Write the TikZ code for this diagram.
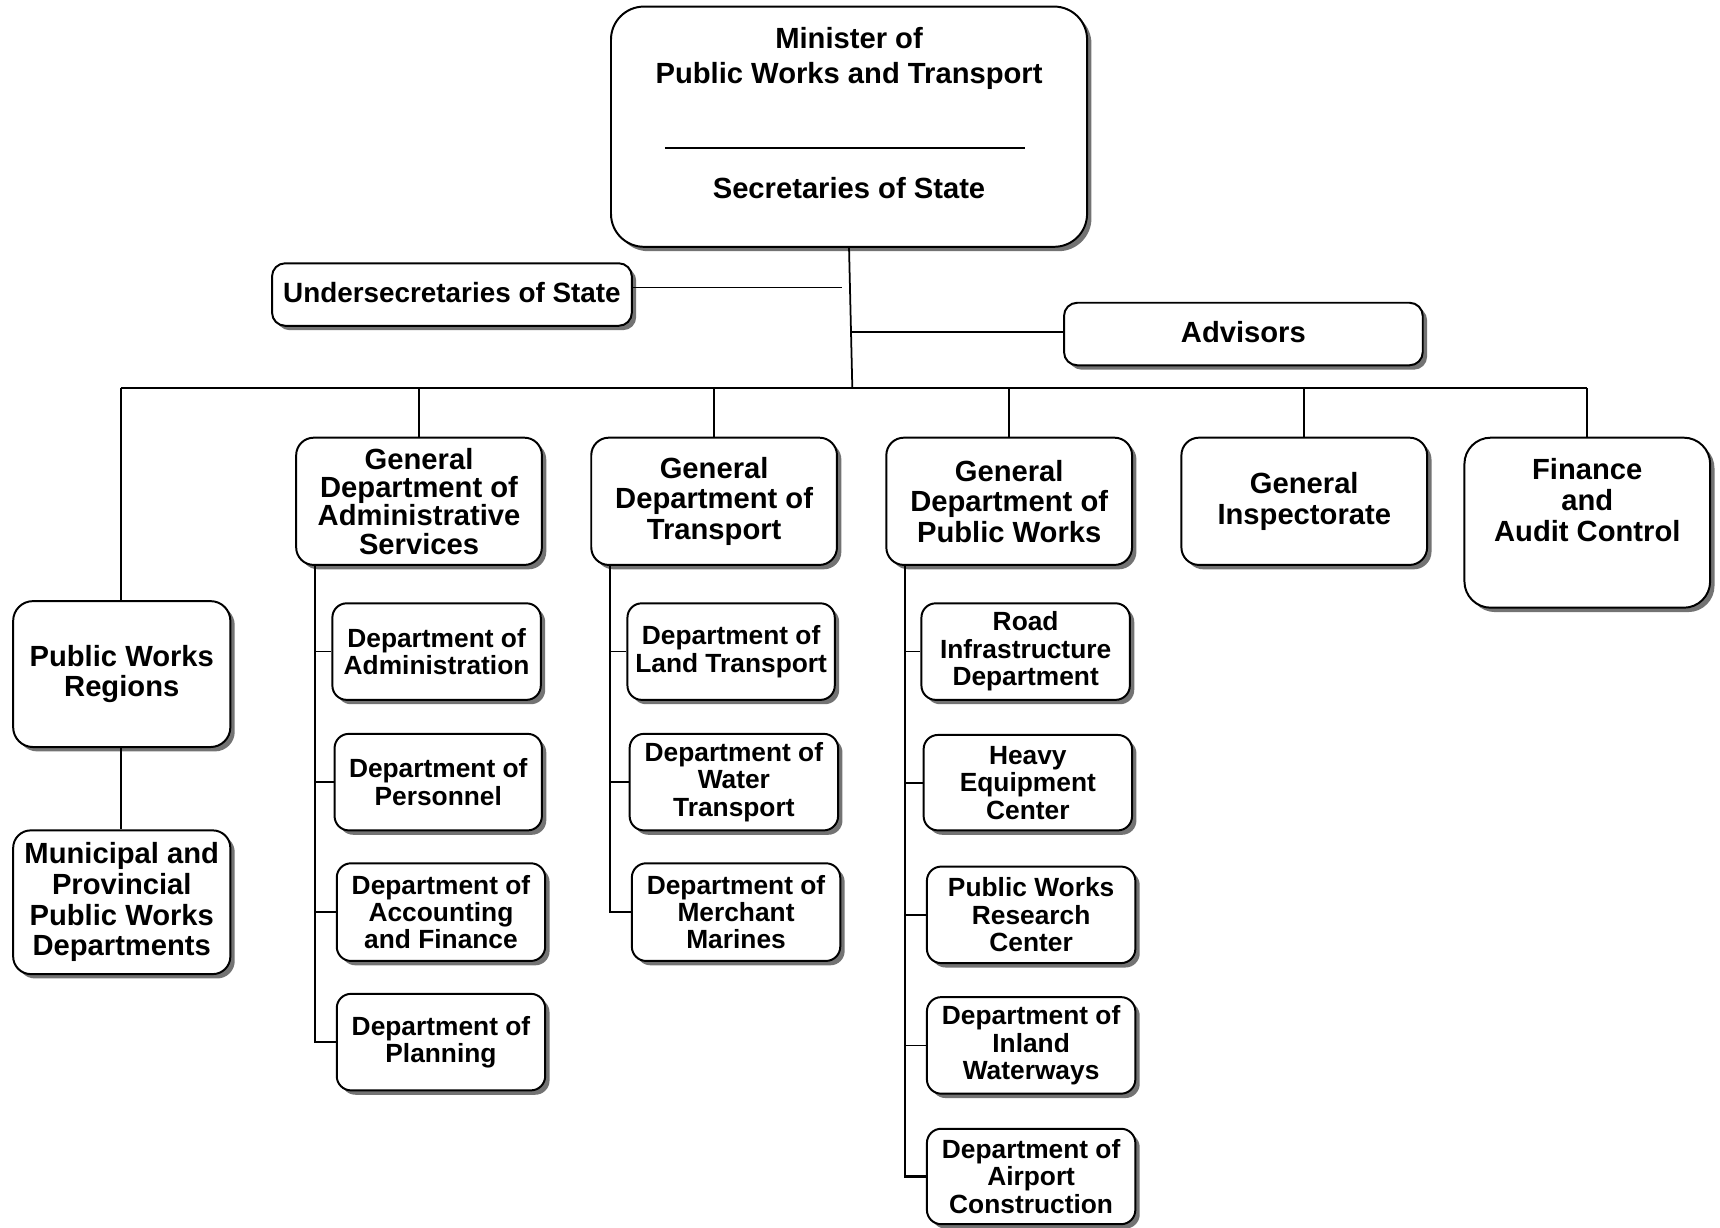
\documentclass[tikz,border=0pt]{standalone}
\usepackage{fontspec}
\setmainfont{Liberation Sans}
\usetikzlibrary{shadows}
\tikzset{
  box/.style={draw, line width=0.9pt, rounded corners=8pt, fill=white, align=center,
    font=\bfseries\fontsize{13.3}{14}\selectfont, inner sep=0pt,
    drop shadow={shadow xshift=2pt, shadow yshift=-2pt, fill=black!55, opacity=1}},
  sub/.style={box, rounded corners=6.5pt, font=\bfseries\fontsize{12}{12.5}\selectfont},
  boxtext/.style={align=center, font=\bfseries\fontsize{13.3}{14}\selectfont, inner sep=0pt},
  conn/.style={line width=0.8pt},
  subl/.style={line width=1pt},
}
\newcommand\bx[7]{\node[#1, minimum width={(#4-#2)*0.5pt}, minimum height={(#5-#3)*0.5pt}] (#6) at ({(#2+#4)/2},{(#3+#5)/2}) {#7};}
\begin{document}
\begin{tikzpicture}[x=0.5pt, y=-0.5pt]
\useasboundingbox (0,0) rectangle (1568,1119);
% top
\bx{box, rounded corners=15pt}{557}{6}{991}{225}{top}{}
\node[boxtext, font=\bfseries\fontsize{13.3}{16}\selectfont] (mintxt) at (774,53) {Minister of\\Public Works and Transport};
\coordinate (ruleL) at (606,135); \coordinate (ruleR) at (934,135);
\draw[line width=0.9pt] (ruleL) -- (ruleR);
\node[boxtext] (sectxt) at (774,171) {Secretaries of State};
% side boxes
\bx{box, rounded corners=6pt, font=\bfseries\fontsize{12.7}{14}\selectfont}{248}{240}{576}{297}{us}{\raisebox{1.5pt}{Undersecretaries of State}}
\bx{box, rounded corners=6pt}{970}{276}{1297}{333}{adv}{\raisebox{1.5pt}{Advisors}}
% main row
\bx{box, rounded corners=9pt}{12}{548}{210}{681}{pwr}{Public Works\\Regions}
\bx{box}{12}{757}{210}{888}{mun}{Municipal and\\Provincial\\Public Works\\Departments}
\bx{box, font=\bfseries\fontsize{13.3}{12.85}\selectfont}{270}{399}{494}{515}{gdas}{General\\Department of\\Administrative\\Services}
\bx{box}{539}{399}{763}{515}{gdt}{General\\Department of\\Transport}
\bx{box}{808}{399}{1032}{515}{gdpw}{General\\Department of\\Public Works}
\bx{box}{1077}{399}{1301}{515}{gi}{General\\Inspectorate}
\bx{box, rounded corners=12pt}{1335}{399}{1559}{554}{fac}{}
\node[boxtext] (factxt) at (1447,456) {Finance\\and\\Audit Control};
% sub boxes
\bx{sub}{303}{550}{493}{638}{sa1}{Department of\\Administration}
\bx{sub}{305}{669}{494}{757}{sa2}{Department of\\Personnel}
\bx{sub}{307}{787}{497}{876}{sa3}{Department of\\Accounting\\and Finance}
\bx{sub}{307}{906}{497}{994}{sa4}{Department of\\Planning}
\bx{sub}{572}{550}{761}{638}{st1}{Department of\\Land Transport}
\bx{sub}{574}{669}{764}{757}{st2}{Department of\\Water\\Transport}
\bx{sub}{576}{787}{766}{876}{st3}{Department of\\Merchant\\Marines}
\bx{sub}{840}{550}{1030}{638}{sp1}{Road\\Infrastructure\\Department}
\bx{sub}{842}{670}{1032}{757}{sp2}{Heavy\\Equipment\\Center}
\bx{sub}{845}{790}{1035}{878}{sp3}{Public Works\\Research\\Center}
\bx{sub}{845}{909}{1035}{997}{sp4}{Department of\\Inland\\Waterways}
\bx{sub}{845}{1029}{1035}{1116}{sp5}{Department of\\Airport\\Construction}
% connectors
\coordinate (busL) at (110,354);
\coordinate (busR) at (1447,354);
\coordinate (busM) at (777,354);
\coordinate (usend) at (768,262);
\coordinate (advstart) at (777,303);
\draw[conn] (top.south) -- (busM);
\draw[conn] (us.east |- usend) -- (usend);
\draw[conn] (advstart) -- (adv.west |- advstart);
\draw[conn] (busL) -- (busR);
\draw[conn] (busL) -- (pwr.north -| busL);
\draw[conn] (pwr.south -| busL) -- (mun.north -| busL);
\foreach \n in {gdas,gdt,gdpw,gi,fac} \draw[conn] (\n.north |- busL) -- (\n.north);
\coordinate (a0) at (287,515);
\coordinate (t0) at (556,515);
\coordinate (p0) at (825,515);
\draw[subl] (a0) |- (sa4.west);
\foreach \n in {sa1,sa2,sa3} \draw[conn] (a0 |- \n.west) -- (\n.west);
\draw[subl] (t0) |- (st3.west);
\foreach \n in {st1,st2} \draw[conn] (t0 |- \n.west) -- (\n.west);
\draw[subl] (p0) |- (sp5.west);
\foreach \n in {sp1,sp2,sp3,sp4} \draw[conn] (p0 |- \n.west) -- (\n.west);
\end{tikzpicture}
\end{document}
